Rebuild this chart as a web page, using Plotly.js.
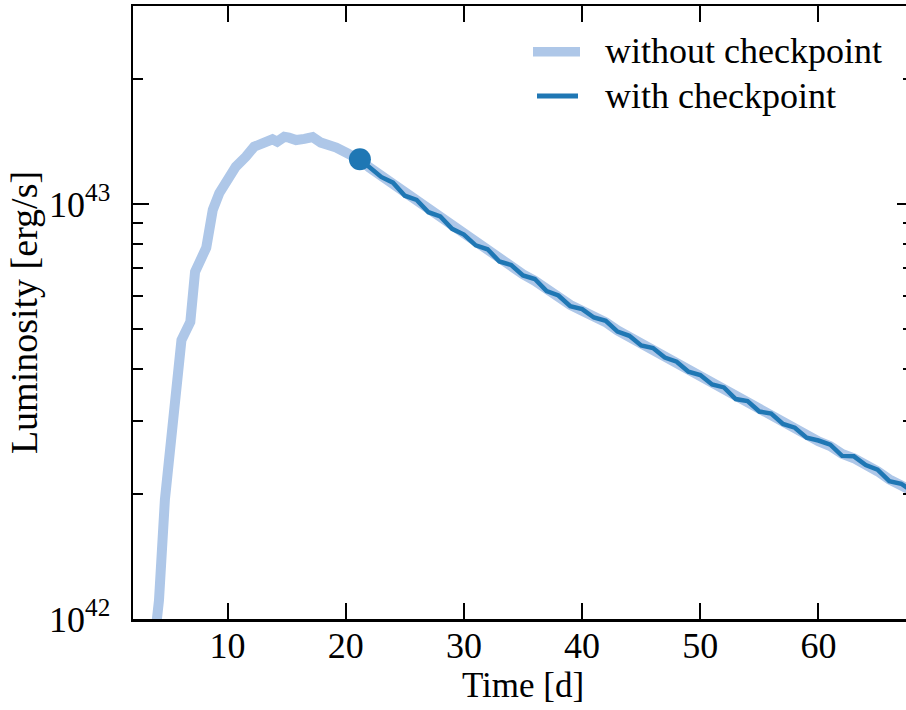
<!DOCTYPE html>
<html>
<head>
<meta charset="utf-8">
<script src="https://cdn.plot.ly/plotly-3.0.1.min.js"></script>
<style>
html, body { margin: 0; padding: 0; overflow: hidden; background: #fff; }
#chart { width: 913px; height: 710px; }
</style>
</head>
<body>
<div id="chart"></div>
<script>
// ---- data (time in days, luminosity in erg/s) ----
const timeWithout = [3.9, 4.2, 4.7, 5.2, 5.65, 6.1, 6.85, 7.25, 8.2, 8.75, 9.3, 9.9, 10.7, 11.55, 12.25, 12.95,
  13.8, 14.2, 14.8, 15.2, 15.8, 16.5, 17.2, 17.9, 18.6, 19.2, 20.3, 21.2,
  22, 23, 24, 25, 26, 27, 28, 29, 30, 31, 32, 33, 34, 35, 36, 37, 38, 39, 40, 41, 42, 43, 44, 45,
  46, 47, 48, 49, 50, 51, 52, 53, 54, 55, 56, 57, 58, 59, 60, 61, 62, 63, 64, 65, 66, 67, 68];
const lumWithout = [0.93e42, 1.11e42, 1.94e42, 2.80e42, 3.37e42, 4.70e42, 5.20e42, 6.86e42, 7.85e42, 9.68e42,
  10.62e42, 11.43e42, 12.30e42, 13.00e42, 13.74e42, 14.00e42, 14.32e42, 14.13e42, 14.52e42, 14.45e42, 14.26e42,
  14.35e42, 14.49e42, 14.06e42, 13.90e42, 13.68e42, 13.18e42, 12.82e42,
  12.25e42, 11.70e42, 11.20e42, 10.55e42, 10.17e42, 9.62e42, 9.26e42, 8.78e42, 8.38e42, 8.02e42, 7.71e42,
  7.35e42, 7.06e42, 6.77e42, 6.53e42, 6.21e42, 5.98e42, 5.71e42, 5.53e42, 5.37e42, 5.19e42, 4.96e42, 4.78e42,
  4.60e42, 4.46e42, 4.30e42, 4.14e42, 3.97e42, 3.85e42, 3.70e42, 3.58e42, 3.42e42, 3.33e42, 3.19e42, 3.10e42,
  2.97e42, 2.87e42, 2.76e42, 2.68e42, 2.61e42, 2.50e42, 2.44e42, 2.37e42, 2.27e42, 2.17e42, 2.10e42, 2.03e42];

const timeWith = [21.2, 22, 23, 24, 25, 26, 27, 28, 29, 30, 31, 32, 33, 34, 35, 36, 37, 38, 39, 40, 41, 42, 43, 44, 45,
  46, 47, 48, 49, 50, 51, 52, 53, 54, 55, 56, 57, 58, 59, 60, 61, 62, 63, 64, 65, 66, 67, 68];
const lumWith = [12.82e42, 12.30e42, 11.62e42, 11.26e42, 10.47e42, 10.23e42, 9.555e42, 9.33e42, 8.71e42, 8.44e42,
  7.95e42, 7.78e42, 7.27e42, 7.13e42, 6.73e42, 6.595e42, 6.17e42, 6.02e42, 5.67e42, 5.58e42, 5.327e42,
  5.23e42, 4.925e42, 4.814e42, 4.56e42, 4.497e42, 4.266e42, 4.169e42, 3.945e42, 3.873e42, 3.673e42, 3.614e42,
  3.388e42, 3.350e42, 3.162e42, 3.126e42, 2.951e42, 2.891e42, 2.735e42, 2.692e42, 2.630e42, 2.472e42, 2.466e42,
  2.350e42, 2.291e42, 2.148e42, 2.118e42, 2.023e42];

const checkpointTime = [21.2];
const checkpointLum = [12.82e42];

const seriesNames = ['without checkpoint', 'with checkpoint'];
const seriesColors = ['#aec7e8', '#1f77b4'];
const seriesWidths = [10, 4.5];
const xTickVals = [10, 20, 30, 40, 50, 60];
const yTickVals = [1e42, 1e43];
const yTickText = ['10<sup>42</sup>', '10<sup>43</sup>'];
const yMinorVals = [2e42, 3e42, 4e42, 5e42, 6e42, 7e42, 8e42, 9e42, 2e43, 3e43];

const FONT = "'Liberation Serif', 'Times New Roman', Times, serif";

const traces = [
  { x: timeWithout, y: lumWithout, mode: 'lines', name: seriesNames[0], showlegend: false,
    line: { color: seriesColors[0], width: seriesWidths[0] } },
  { x: timeWith, y: lumWith, mode: 'lines', name: seriesNames[1], showlegend: false,
    line: { color: seriesColors[1], width: seriesWidths[1] } },
  { x: checkpointTime, y: checkpointLum, mode: 'markers', showlegend: false,
    marker: { color: seriesColors[1], size: 22 } }
];

// legend drawn as paper-positioned keys (plot area: x 133..913 px, y 6..619 px)
const W = 913, H = 710, ML = 133, MT = 6, MB = 91;
const plotW = W - ML, plotH = H - MT - MB;
const px = v => (v - ML) / plotW;
const py = v => (H - MB - v) / plotH;
const keyRows = [
  { x0: 533, x1: 580, y: 51.7, ty: 51.2 },
  { x0: 537, x1: 578, y: 96.0, ty: 96.2 }
];
const shapes = keyRows.map((r, i) => ({
  type: 'line', xref: 'paper', yref: 'paper', x0: px(r.x0), x1: px(r.x1), y0: py(r.y), y1: py(r.y),
  line: { color: seriesColors[i], width: i === 0 ? 9.5 : 5 }
}));
const annotations = keyRows.map((r, i) => ({
  xref: 'paper', yref: 'paper', x: px(603), y: py(r.ty), xanchor: 'left', yanchor: 'middle',
  text: seriesNames[i], showarrow: false, font: { family: FONT, size: 36, color: '#000' }
}));

const layout = {
  width: W, height: H,
  margin: { l: ML, r: 0, t: MT, b: MB },
  paper_bgcolor: '#fff', plot_bgcolor: '#fff',
  font: { family: FONT, size: 35, color: '#000' },
  showlegend: false,
  shapes: shapes,
  annotations: annotations,
  xaxis: {
    range: [2, 68], tickvals: xTickVals, ticks: 'inside', ticklen: 16, tickwidth: 2, tickcolor: '#000',
    showline: true, linewidth: 2.5, linecolor: '#000', mirror: 'ticks', showgrid: false, zeroline: false,
    tickfont: { family: FONT, size: 36 }, ticklabelstandoff: -7,
    title: { text: 'Time [d]', font: { family: FONT, size: 35 }, standoff: 2 }
  },
  yaxis: {
    type: 'log', range: [42, Math.log10(3e43)], tickvals: yTickVals, ticktext: yTickText,
    ticks: 'inside', ticklen: 16, tickwidth: 2, tickcolor: '#000',
    minor: { tickvals: yMinorVals, ticks: 'inside', ticklen: 10, tickwidth: 2, tickcolor: '#000', showgrid: false },
    showline: true, linewidth: 2.5, linecolor: '#000', mirror: 'ticks', showgrid: false, zeroline: false,
    tickfont: { family: FONT, size: 36 }, ticklabelstandoff: 13,
    title: { text: 'Luminosity [erg/s]', font: { family: FONT, size: 38 }, standoff: 0 }
  }
};

Plotly.newPlot('chart', traces, layout, { displayModeBar: false, staticPlot: true });
</script>
</body>
</html>
